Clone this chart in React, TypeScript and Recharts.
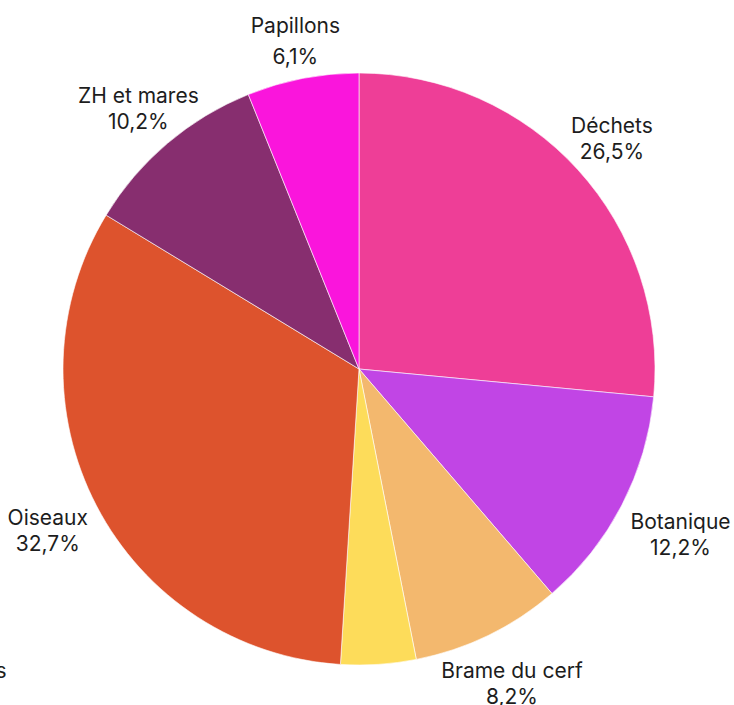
import { PieChart, Pie, Cell } from "recharts"

const categories = [
  "Déchets",
  "Botanique",
  "Brame du cerf",
  "Libellules",
  "Oiseaux",
  "ZH et mares",
  "Papillons",
]
const shares = [26.5, 12.2, 8.2, 4.1, 32.7, 10.2, 6.1]
const colors = ["#ee3e97", "#c145e5", "#f3b86e", "#fddc5a", "#dd532d", "#872e6f", "#fa15dc"]

const data = categories.map((name, i) => ({ name, value: shares[i] }))

const RADIAN = Math.PI / 180
// extra distance of each label block beyond the outer radius
const labelGap = [46, 66, 54, 54, 55, 45, 38]

const fmt = (v: number) => `${v.toFixed(1).replace(".", ",")}%`

function renderLabel(props: any) {
  const { cx, cy, midAngle, outerRadius, index, payload } = props
  const r = outerRadius + labelGap[index]
  let x = cx + r * Math.cos(-midAngle * RADIAN)
  let y = cy + r * Math.sin(-midAngle * RADIAN)
  if (index === 3) {
    // pushed aside to the left of "Brame du cerf" to avoid overlap
    const brameMid = midAngle + 22
    y = cy + (outerRadius + labelGap[2]) * Math.sin(-brameMid * RADIAN)
    x = cx - outerRadius - 103
  }
  const lineGap = index === 6 ? 31 : 26
  return (
    <text
      x={x}
      y={y}
      textAnchor="middle"
      fill="#1d1d1d"
      fontFamily="Inter, sans-serif"
      fontSize={21}
    >
      <tspan x={x} dy={-6 - (lineGap - 26) / 2}>
        {payload.name}
      </tspan>
      <tspan x={x} dy={lineGap}>
        {fmt(payload.value)}
      </tspan>
    </text>
  )
}

export default function App() {
  return (
    <div style={{ position: "absolute", left: 0, top: 0, background: "#fff" }}>
      <PieChart
        width={734}
        height={705}
        margin={{ top: 0, right: 0, bottom: 0, left: 0 }}
        style={{ overflow: "visible" }}
      >
        <Pie
          data={data}
          dataKey="value"
          nameKey="name"
          cx={359}
          cy={369}
          outerRadius={296}
          startAngle={90}
          endAngle={-270}
          stroke="#ffffff"
          strokeWidth={0.6}
          label={renderLabel}
          labelLine={false}
          isAnimationActive={false}
        >
          {data.map((d, i) => (
            <Cell key={d.name} fill={colors[i]} />
          ))}
        </Pie>
      </PieChart>
    </div>
  )
}
